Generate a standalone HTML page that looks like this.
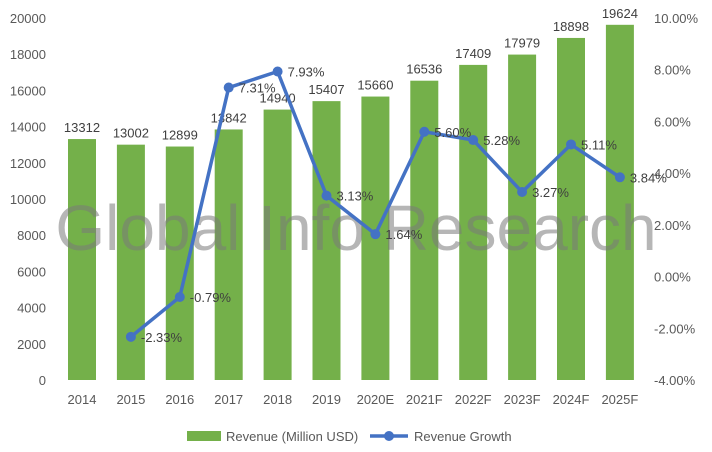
<!DOCTYPE html>
<html><head><meta charset="utf-8"><style>
body{margin:0;background:#fff;}
svg{display:block;font-family:"Liberation Sans",sans-serif;}
</style></head><body>
<svg id="c" width="712" height="452"></svg>
<script>
const categories=["2014","2015","2016","2017","2018","2019","2020E","2021F","2022F","2023F","2024F","2025F"];
const revenue=[13312,13002,12899,13842,14940,15407,15660,16536,17409,17979,18898,19624];
const growth=[null,-2.33,-0.79,7.31,7.93,3.13,1.64,5.60,5.28,3.27,5.11,3.84];
const leftTicks=[0,2000,4000,6000,8000,10000,12000,14000,16000,18000,20000];
const rightTicks=[-4,-2,0,2,4,6,8,10];
const NS="http://www.w3.org/2000/svg";
const svg=document.getElementById('c');
const top0=18,bot=380;
const yL=v=>bot-(v/20000)*(bot-top0);
const yR=v=>bot-((v+4)/14)*(bot-top0);
const xC=i=>82+i*48.9;
function mk(t,a,txt){const e=document.createElementNS(NS,t);for(const k in a)e.setAttribute(k,a[k]);if(txt!==undefined)e.textContent=txt;svg.appendChild(e);return e;}
leftTicks.forEach(v=>{const e=mk('text',{x:46,y:yL(v)+5,'text-anchor':'end','font-size':13,fill:'#595959'},v);

});
rightTicks.forEach(v=>{const e=mk('text',{x:654,y:yR(v)+5,'font-size':13,fill:'#595959'},v.toFixed(2)+'%');

});
categories.forEach((c,i)=>{
const b=mk('rect',{x:xC(i)-14,y:yL(revenue[i]),width:28,height:bot-yL(revenue[i]),fill:'#74b04a'});


const t=mk('text',{x:xC(i),y:yL(revenue[i])-7,'text-anchor':'middle','font-size':13,fill:'#404040'},revenue[i]);


const l=mk('text',{x:xC(i),y:404,'text-anchor':'middle','font-size':13,fill:'#595959'},c);


});
const wm=mk('text',{x:356,y:250,'text-anchor':'middle','font-size':64,fill:'#7a7a7a','fill-opacity':0.55},'Global Info Research');


let d='';growth.forEach((g,i)=>{if(g===null)return;d+=(d?'L':'M')+xC(i)+','+yR(g);});
const ln=mk('path',{d:d,fill:'none',stroke:'#4472c4','stroke-width':3.5});


growth.forEach((g,i)=>{if(g===null)return;
const p=mk('circle',{cx:xC(i),cy:yR(g),r:5,fill:'#4472c4'});


const t=mk('text',{x:xC(i)+10,y:yR(g)+5,'font-size':13,fill:'#404040'},g.toFixed(2)+'%');


});
const lg1=mk('rect',{x:187,y:431,width:34,height:10,fill:'#74b04a'});


const lt1=mk('text',{x:226,y:441,'font-size':13,fill:'#595959'},'Revenue (Million USD)');


const lg2=mk('line',{x1:370,y1:436,x2:408,y2:436,stroke:'#4472c4','stroke-width':3.5});


const lc=mk('circle',{cx:389,cy:436,r:5,fill:'#4472c4'});


const lt2=mk('text',{x:414,y:441,'font-size':13,fill:'#595959'},'Revenue Growth');


</script>
</body></html>
